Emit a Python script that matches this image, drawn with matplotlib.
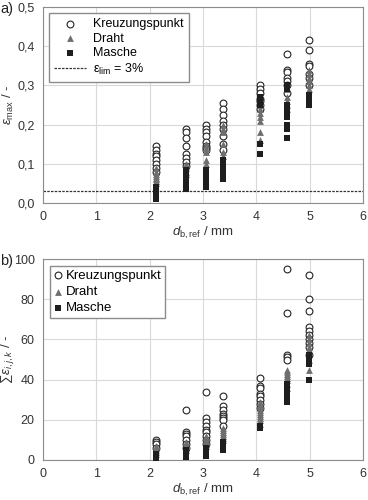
import matplotlib
matplotlib.use("Agg")
import matplotlib.pyplot as plt
from matplotlib.ticker import FuncFormatter, MultipleLocator

plt.rcParams['font.family'] = ['Liberation Sans', 'DejaVu Sans']
plt.rcParams['mathtext.fontset'] = 'custom'
plt.rcParams['mathtext.rm'] = 'Liberation Sans'
plt.rcParams['mathtext.it'] = 'Liberation Sans:italic'

# bar diameters d_b,ref (mm), one column of points per diameter
d_ref = [2.12, 2.67, 3.06, 3.37, 4.06, 4.58, 4.99]

# a) maximum strain
a_kreuz = [
    [0.145, 0.135, 0.125, 0.12, 0.11, 0.10, 0.09, 0.08],
    [0.19, 0.18, 0.165, 0.145, 0.125, 0.115, 0.105, 0.095],
    [0.20, 0.19, 0.18, 0.17, 0.155, 0.145, 0.14, 0.135],
    [0.255, 0.24, 0.225, 0.21, 0.20, 0.19, 0.17, 0.15, 0.135],
    [0.30, 0.29, 0.28, 0.265, 0.26, 0.25, 0.24],
    [0.38, 0.34, 0.335, 0.32, 0.31, 0.30, 0.28],
    [0.415, 0.39, 0.355, 0.35, 0.33, 0.32, 0.30],
]
a_draht = [
    [0.09, 0.08, 0.075, 0.07, 0.065, 0.06, 0.055, 0.05],
    [0.10, 0.095, 0.09, 0.08, 0.075],
    [0.15, 0.14, 0.13, 0.11, 0.10],
    [0.20, 0.19, 0.18, 0.15, 0.13, 0.12],
    [0.25, 0.24, 0.23, 0.22, 0.21, 0.18, 0.16],
    [0.29, 0.27, 0.26, 0.25, 0.24],
    [0.34, 0.33, 0.32, 0.31, 0.30, 0.29],
]
a_masche = [
    [0.04, 0.035, 0.03, 0.025, 0.02, 0.01],
    [0.085, 0.07, 0.06, 0.05, 0.045, 0.04, 0.035],
    [0.085, 0.08, 0.07, 0.06, 0.045, 0.04],
    [0.11, 0.10, 0.09, 0.08, 0.07, 0.06],
    [0.27, 0.26, 0.25, 0.15, 0.125],
    [0.30, 0.29, 0.25, 0.24, 0.23, 0.22, 0.20, 0.19, 0.165],
    [0.275, 0.27, 0.265, 0.26, 0.255, 0.25],
]
eps_lim = 0.03

# b) summed strain
b_kreuz = [
    [10, 9, 8, 6],
    [25, 14, 13, 12, 10, 8, 6],
    [34, 21, 19, 17, 15, 14, 12, 10, 8],
    [32, 27, 25, 23, 22, 21, 20, 17],
    [41, 37, 36, 33, 32, 30, 28, 26],
    [95, 73, 52, 51, 50],
    [92, 80, 74, 66, 64, 62, 60, 58, 56, 52],
]
b_draht = [
    [7, 6, 5, 4, 3],
    [9, 8, 7, 6, 5],
    [12, 11, 10, 9, 8, 7],
    [16, 15, 14, 13, 12, 11, 10],
    [29, 28, 27, 26, 25, 24, 23, 22, 21, 20, 18],
    [45, 44, 43, 42, 41, 40, 38, 36],
    [62, 60, 58, 56, 55, 50, 45],
]
b_masche = [
    [3, 2, 1, 0.5],
    [5, 4, 3, 2, 1.5],
    [6, 5, 4, 3, 2],
    [9, 8, 7, 6, 5],
    [17, 16],
    [38, 36, 34, 33, 32, 31, 30, 29],
    [52, 50, 48, 40],
]


def flat(cols):
    xs, ys = [], []
    for x, col in zip(d_ref, cols):
        xs += [x] * len(col)
        ys += col
    return xs, ys


fig = plt.figure(figsize=(3.68, 5.0), dpi=100)
ax1 = fig.add_axes([0.117, 0.594, 0.870, 0.392])
ax2 = fig.add_axes([0.117, 0.080, 0.870, 0.402])

grey = '#8c8c8c'
for ax, kr, dr, ma in [(ax1, a_kreuz, a_draht, a_masche), (ax2, b_kreuz, b_draht, b_masche)]:
    x, y = flat(kr)
    ax.scatter(x, y, s=24, marker='o', facecolor='white', edgecolor='#222222', lw=0.8, zorder=3, label='Kreuzungspunkt')
    x, y = flat(dr)
    ax.scatter(x, y, s=24, marker='^', color='#6e6e6e', lw=0, zorder=4, label='Draht')
    x, y = flat(ma)
    ax.scatter(x, y, s=24, marker='s', color='#1e1e1e', lw=0, zorder=5, label='Masche')
    ax.set_xlim(0, 6)
    ax.xaxis.set_major_locator(MultipleLocator(1))
    ax.grid(True, color='#d9d9d9', lw=0.8)
    ax.set_axisbelow(True)
    for s in ax.spines.values():
        s.set_color(grey)
    ax.tick_params(length=0, labelsize=9, colors='#333333', pad=6)
    ax.set_xlabel(r'$d_{\mathrm{b,ref}}$ / mm', fontsize=9.5, color='#333333', labelpad=1)

ax1.axhline(eps_lim, color='#333333', ls=(0, (2, 1)), lw=0.9, zorder=2, label=r'$\mathrm{\varepsilon_{lim}}$ = 3%')
ax1.set_ylim(0, 0.5)
ax1.yaxis.set_major_locator(MultipleLocator(0.1))
ax1.yaxis.set_major_formatter(FuncFormatter(lambda v, p: f'{v:.1f}'.replace('.', ',')))
ax1.set_ylabel(r'$\varepsilon_{\mathrm{max}}$ / -', fontsize=9.5, color='#333333')
ax1.yaxis.set_label_coords(-0.085, 0.5)
leg1 = ax1.legend(loc='upper left', fontsize=9, handlelength=2.5, handletextpad=0.6,
                  borderpad=0.4, labelspacing=0.2, fancybox=False, framealpha=1)
leg1.get_frame().set_edgecolor(grey)

ax2.set_ylim(0, 100)
ax2.yaxis.set_major_locator(MultipleLocator(20))
ax2.set_ylabel(r'$\sum\varepsilon_{i,j,k}$ / -', fontsize=9.5, color='#333333')
ax2.yaxis.set_label_coords(-0.085, 0.5)
leg2 = ax2.legend(loc='upper left', fontsize=9.5, handlelength=0.6, handletextpad=0.3,
                  borderpad=0.3, labelspacing=0.3, fancybox=False, framealpha=1)
leg2.get_frame().set_edgecolor(grey)

fig.text(0.0, 0.975, 'a)', fontsize=10.5, color='#222222')
fig.text(0.0, 0.47, 'b)', fontsize=10.5, color='#222222')

fig.savefig('out.png', dpi=100)
